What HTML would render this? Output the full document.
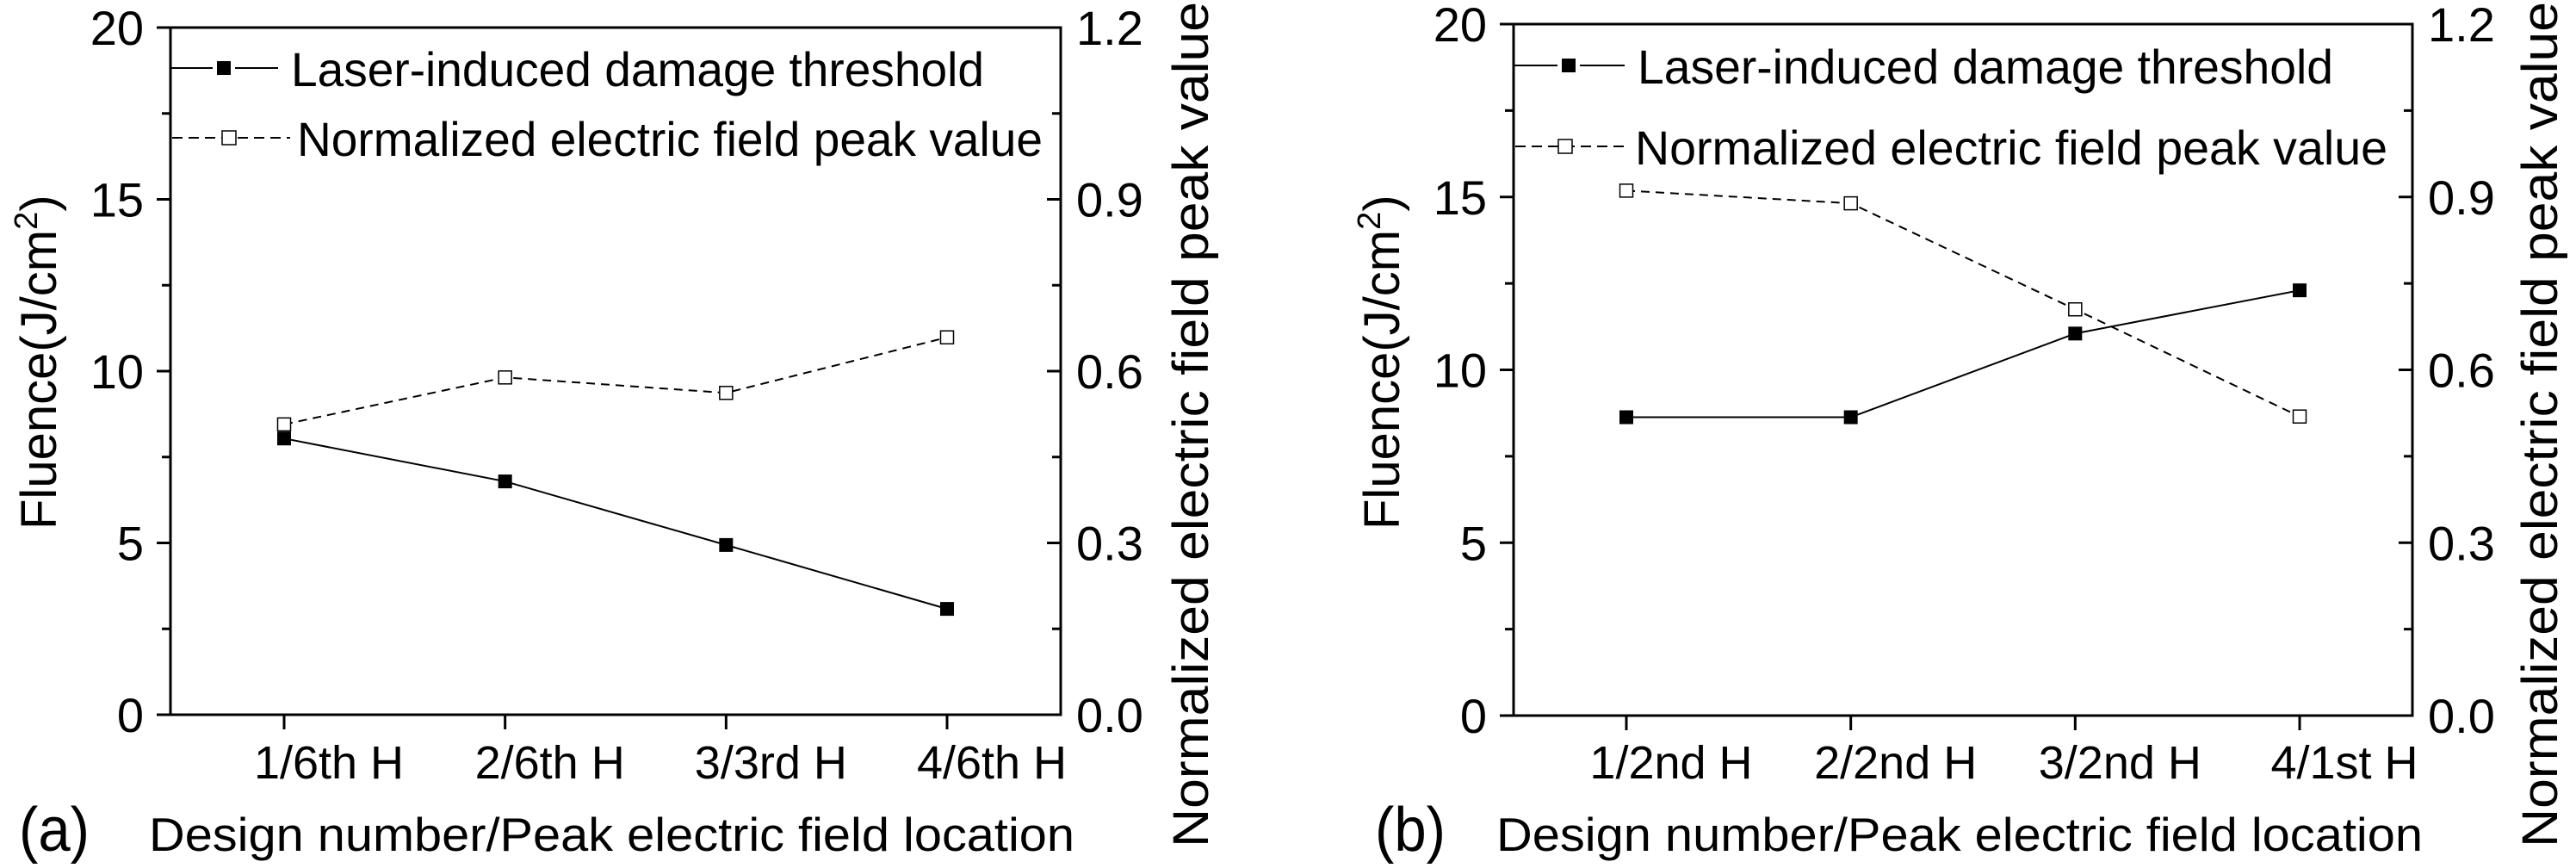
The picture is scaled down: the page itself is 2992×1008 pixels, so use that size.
<!DOCTYPE html>
<html><head><meta charset="utf-8"><style>
html,body{margin:0;padding:0;background:#fff;}
svg{display:block;font-family:"Liberation Sans",Arial,sans-serif;}
</style></head><body>
<svg id="chart" width="2992" height="1008" viewBox="0 0 2992 1008" xmlns="http://www.w3.org/2000/svg"></svg>
<script>
const categoriesA = ["1/6th H", "2/6th H", "3/3rd H", "4/6th H"];
const thresholdA = [8.04, 6.79, 4.94, 3.08];
const fieldA = [0.507, 0.589, 0.562, 0.659];
const categoriesB = ["1/2nd H", "2/2nd H", "3/2nd H", "4/1st H"];
const thresholdB = [8.63, 8.63, 11.05, 12.30];
const fieldB = [0.911, 0.889, 0.705, 0.519];
const leftTicks = ["0", "5", "10", "15", "20"];
const rightTicks = ["0.0", "0.3", "0.6", "0.9", "1.2"];
const legendLabels = ["Laser-induced damage threshold", "Normalized electric field peak value"];

const NS = "http://www.w3.org/2000/svg";
const svg = document.getElementById("chart");
function mk(tag, attrs, parent, text) {
  const e = document.createElementNS(NS, tag);
  for (const k in attrs) e.setAttribute(k, attrs[k]);
  if (text !== undefined) e.textContent = text;
  (parent || svg).appendChild(e);
  return e;
}

function panel(cfg) {
  const g = mk("g", {});
  
  
  const L = cfg.left, R = cfg.right, T = cfg.top, B = cfg.bottom;
  const yL = v => B - (v / 20) * (B - T);
  const yR = v => B - (v / 1.2) * (B - T);
  const step = (R - L - 2 * cfg.pad) / (cfg.cats.length - 1);
  const xS = i => L + cfg.pad + i * step;

  // axes box
  const box = mk("rect", {x: L, y: T, width: R - L, height: B - T, fill: "none", stroke: "#000", "stroke-width": 3}, g);
  
  

  // left ticks
  for (let i = 0; i <= 8; i++) {
    const v = i * 2.5, y = yL(v), major = i % 2 === 0;
    const t = mk("line", {x1: L - (major ? 16 : 10), x2: L, y1: y, y2: y, stroke: "#000", "stroke-width": 3}, g);
    
    
    // right ticks (inward)
    const rt = mk("line", {x1: R - (major ? 16 : 10), x2: R, y1: y, y2: y, stroke: "#000", "stroke-width": 3}, g);
    
    
  }
  leftTicks.forEach((lab, i) => {
    const t = mk("text", {x: L - 31, y: yL(i * 5) + 20, "font-size": 56, "text-anchor": "end"}, g, lab);
    
    
  });
  rightTicks.forEach((lab, i) => {
    const t = mk("text", {x: R + 18, y: yR(i * 0.3) + 20, "font-size": 56}, g, lab);
    
    
  });
  cfg.cats.forEach((c, i) => {
    const x = xS(i);
    const t = mk("line", {x1: x, x2: x, y1: B, y2: B + 17, stroke: "#000", "stroke-width": 3}, g);
    
    
    const l = mk("text", {x: x + 52, y: 904, "font-size": 54, "text-anchor": "middle"}, g, c);
    
    
  });

  // series: threshold (solid)
  const p1 = cfg.thr.map((v, i) => xS(i) + "," + yL(v)).join(" ");
  const line1 = mk("polyline", {points: p1, fill: "none", stroke: "#000", "stroke-width": 2}, g);
  
  
  const p2 = cfg.fld.map((v, i) => xS(i) + "," + yR(v)).join(" ");
  const line2 = mk("polyline", {points: p2, fill: "none", stroke: "#000", "stroke-width": 2, "stroke-dasharray": "10,7"}, g);
  
  
  cfg.thr.forEach((v, i) => {
    const m = mk("rect", {x: xS(i) - 8, y: yL(v) - 8, width: 16, height: 16, fill: "#000"}, g);
    
    
  });
  cfg.fld.forEach((v, i) => {
    const m = mk("rect", {x: xS(i) - 7.5, y: yR(v) - 7.5, width: 15, height: 15, fill: "#fff", stroke: "#000", "stroke-width": 1.5}, g);
    
    
  });

  // legend
  const lg = mk("g", {}, g);
  
  
  const r1 = cfg.leg1, r2 = cfg.leg2;
  mk("line", {x1: L, x2: r1.mx - 13, y1: r1.y, y2: r1.y, stroke: "#000", "stroke-width": 2}, lg);
  mk("rect", {x: r1.mx - 8, y: r1.y - 8, width: 16, height: 16, fill: "#000"}, lg);
  mk("line", {x1: r1.mx + 13, x2: r1.tx - 15, y1: r1.y, y2: r1.y, stroke: "#000", "stroke-width": 2}, lg);
  const t1 = mk("text", {x: r1.tx, y: r1.y + 21, "font-size": 56, textLength: r1.w, lengthAdjust: "spacingAndGlyphs"}, lg, legendLabels[0]);
  
  
  mk("line", {x1: L + 2, x2: r2.tx - 8, y1: r2.y, y2: r2.y, stroke: "#000", "stroke-width": 2, "stroke-dasharray": "12,7"}, lg);
  mk("rect", {x: r2.mx - 8, y: r2.y - 8, width: 16, height: 16, fill: "#fff", stroke: "#000", "stroke-width": 1.5}, lg);
  const t2 = mk("text", {x: r2.tx, y: r2.y + 21, "font-size": 56, textLength: r2.w, lengthAdjust: "spacingAndGlyphs"}, lg, legendLabels[1]);
  
  

  // titles
  const xt = mk("text", {x: cfg.xtX, y: 988, "font-size": 55, textLength: cfg.xtW, lengthAdjust: "spacingAndGlyphs"}, g, "Design number/Peak electric field location");
  
  
  const pl = mk("text", {x: cfg.plX, y: 988, "font-size": 72, textLength: 82, lengthAdjust: "spacingAndGlyphs"}, g, cfg.label);
  
  
  const yt = mk("text", {transform: `translate(${cfg.ylX},${615}) rotate(-90)`, "font-size": 58}, g);
  
  
  mk("tspan", {}, yt, "Fluence(J/cm");
  mk("tspan", {dy: -22, "font-size": 38}, yt, "2");
  mk("tspan", {dy: 22}, yt, ")");
  const ry = mk("text", {transform: `translate(${cfg.yrX},${984}) rotate(-90)`, "font-size": 58, textLength: 982, lengthAdjust: "spacingAndGlyphs"}, g, "Normalized electric field peak value");
  
  
}

panel({name: "panel-a", left: 198, right: 1232, top: 32, bottom: 830, pad: 132,
  cats: categoriesA, thr: thresholdA, fld: fieldA,
  leg1: {y: 79, mx: 260, tx: 338, w: 805}, leg2: {y: 160, mx: 266, tx: 345, w: 866},
  xtX: 173, xtW: 1075, plX: 22, label: "(a)", ylX: 65, yrX: 1403});
panel({name: "panel-b", left: 1758, right: 2802, top: 28, bottom: 831, pad: 131,
  cats: categoriesB, thr: thresholdB, fld: fieldB,
  leg1: {y: 76, mx: 1822, tx: 1902, w: 808}, leg2: {y: 170, mx: 1818, tx: 1899, w: 874},
  xtX: 1738, xtW: 1076, plX: 1597, label: "(b)", ylX: 1625, yrX: 2970});
</script>
</body></html>
